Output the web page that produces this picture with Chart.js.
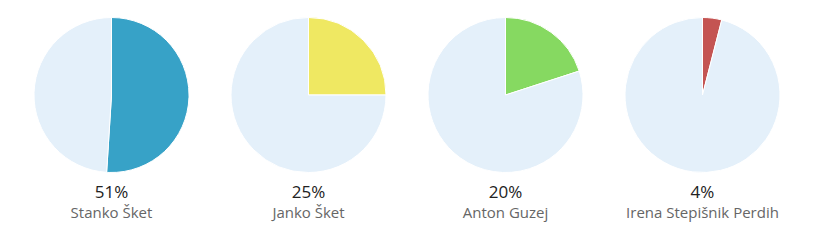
<!DOCTYPE html>
<html>
<head>
<meta charset="utf-8">
<script src="https://cdn.jsdelivr.net/npm/chart.js@4/dist/chart.umd.min.js"></script>
<style>
  body { margin: 0; background: #fff; font-family: "Open Sans", sans-serif; }
  #row { position: absolute; left: 13px; top: 0; display: flex; }
  .cell { width: 197px; text-align: center; }
  .pieBox { position: relative; height: 156px; margin-top: 17px; }
  .pct { margin-top: 8px; font-size: 17px; line-height: 22px; color: #222; }
  .name { font-size: 15px; line-height: 18px; color: #666; }
</style>
</head>
<body>
<div id="row"></div>
<script>
var names = ['Stanko Šket', 'Janko Šket', 'Anton Guzej', 'Irena Stepišnik Perdih'];
var shares = [51, 25, 20, 4];
var rest = [49, 75, 80, 96];
var colors = ['#37a2c7', '#efe862', '#86d961', '#c45452'];
var restColor = '#e4f0fa';

function initPies(){
  var row = document.getElementById('row');
  for(var i = 0; i < names.length; i++){
    var cell = document.createElement('div');
    cell.className = 'cell';
    cell.innerHTML = '<div class="pieBox"><canvas id="pie' + i + '"></canvas></div>' +
      '<div class="pct">' + shares[i] + '%</div>' +
      '<div class="name">' + names[i] + '</div>';
    row.appendChild(cell);

    new Chart(document.getElementById('pie' + i), {
      type: 'pie',
      data: {
        labels: [names[i], ''],
        datasets: [{
          data: [shares[i], rest[i]],
          backgroundColor: [colors[i], restColor],
          borderColor: '#fff',
          borderWidth: 1
        }]
      },
      options: {
        responsive: true,
        maintainAspectRatio: false,
        animation: false,
        plugins: {
          legend: { display: false },
          tooltip: { enabled: false }
        }
      }
    });
  }
}

initPies();
</script>
</body>
</html>
